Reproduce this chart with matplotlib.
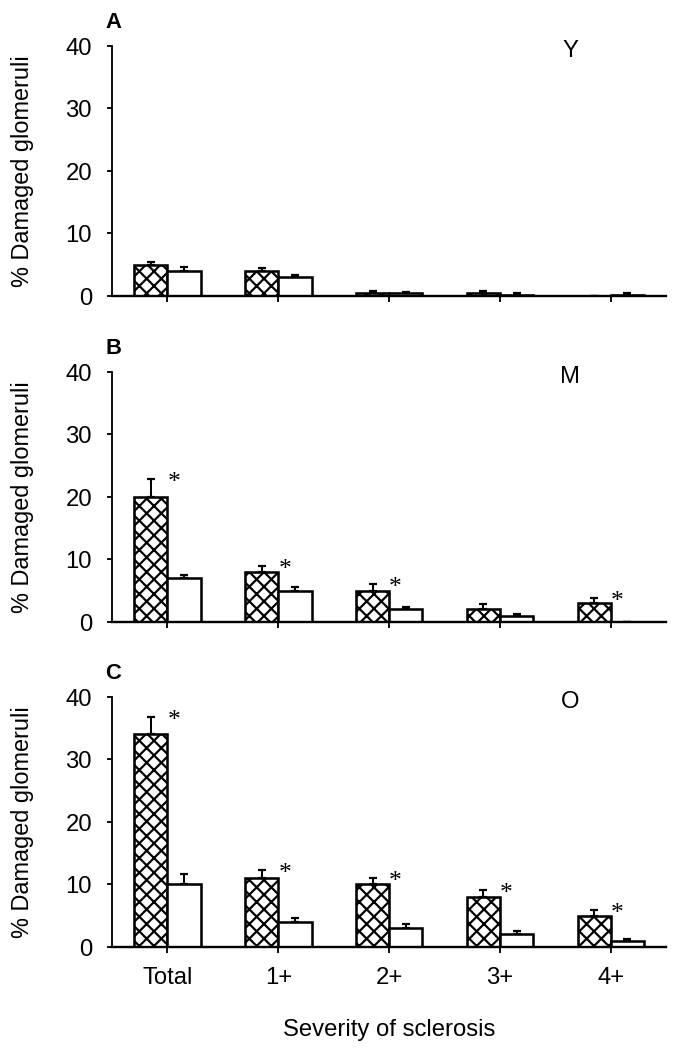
import matplotlib
matplotlib.use('Agg')
import matplotlib.pyplot as plt
import numpy as np

DPI = 132
plt.rcParams['font.family'] = ['Liberation Sans', 'DejaVu Sans']
plt.rcParams['hatch.linewidth'] = 1.2
plt.rcParams['hatch.color'] = 'black'

categories = ['Total', '1+', '2+', '3+', '4+']
panel_letters = ['A', 'B', 'C']
group_names = ['Y', 'M', 'O']

# panel A (Y)
y_hatched = [5, 4, 0.4, 0.4, 0]
y_hatched_err = [0.4, 0.4, 0.3, 0.3, 0]
y_open = [4, 3, 0.4, 0.2, 0.2]
y_open_err = [0.6, 0.3, 0.2, 0.2, 0.2]
y_sig = [False, False, False, False, False]

# panel B (M)
m_hatched = [20, 8, 5, 2, 3]
m_hatched_err = [2.9, 1.0, 1.1, 0.9, 0.8]
m_open = [7, 5, 2, 1, 0]
m_open_err = [0.5, 0.5, 0.4, 0.2, 0]
m_sig = [True, True, True, False, True]

# panel C (O)
o_hatched = [34, 11, 10, 8, 5]
o_hatched_err = [2.8, 1.3, 1.0, 1.1, 0.9]
o_open = [10, 4, 3, 2, 1]
o_open_err = [1.6, 0.6, 0.6, 0.6, 0.3]
o_sig = [True, True, True, True, True]

panels = [
    (y_hatched, y_hatched_err, y_open, y_open_err, y_sig),
    (m_hatched, m_hatched_err, m_open, m_open_err, m_sig),
    (o_hatched, o_hatched_err, o_open, o_open_err, o_sig),
]

fig = plt.figure(figsize=(673.3 / DPI, 1049.3 / DPI), dpi=DPI)

left = 112 / 673
width = 554 / 673
height = 250 / 1049
bottoms = [1 - 296 / 1049, 1 - 622 / 1049, 1 - 947 / 1049]

x = np.arange(len(categories))
w = 0.3
lw = 1.4
fs = 13

for i, (hv, he, ov, oe, sig) in enumerate(panels):
    ax = fig.add_axes([left, bottoms[i], width, height])
    ax.bar(x - w / 2, hv, w, color='white', edgecolor='black', hatch='xxx', linewidth=lw, zorder=2)
    ax.bar(x + w / 2, ov, w, color='white', edgecolor='black', linewidth=lw, zorder=2)
    ax.errorbar(x - w / 2, hv, yerr=[np.zeros(len(hv)), he], fmt='none', ecolor='black',
                elinewidth=1.1, capsize=2, capthick=1.2, zorder=1)
    ax.errorbar(x + w / 2, ov, yerr=[np.zeros(len(ov)), oe], fmt='none', ecolor='black',
                elinewidth=1.1, capsize=2, capthick=1.2, zorder=1)

    for j in range(len(categories)):
        if sig[j]:
            ax.annotate('*', (x[j], hv[j] + he[j]), xytext=(0, -2), textcoords='offset points',
                        family=['Liberation Serif', 'DejaVu Serif'], fontsize=14,
                        ha='left', va='center')

    ax.set_xlim(-0.5, 4.5)
    ax.set_ylim(0, 40)
    ax.set_yticks([0, 10, 20, 30, 40])
    ax.set_xticks(x)
    if i == 2:
        ax.set_xticklabels(categories)
    else:
        ax.set_xticklabels([])
    ax.tick_params(axis='y', length=3, width=1, pad=8, labelsize=fs, direction='out')
    ax.tick_params(axis='x', length=3, width=1, pad=8, labelsize=fs, direction='out')
    for s in ['top', 'right']:
        ax.spines[s].set_visible(False)
    ax.spines['left'].set_linewidth(1)
    ax.spines['bottom'].set_linewidth(1.3)

    ax.set_ylabel('% Damaged glomeruli', fontsize=12.8)
    ax.yaxis.set_label_coords(-0.141, 0.5)

    ax.text(0.002, 1.095, panel_letters[i], transform=ax.transAxes, fontsize=12,
            fontweight='bold', ha='center', va='center')
    ax.text(0.827, 0.98, group_names[i], transform=ax.transAxes, fontsize=13,
            ha='center', va='center')

fig.text(389 / 673, 1 - 1030 / 1049, 'Severity of sclerosis', fontsize=13,
         ha='center', va='center')

fig.savefig('out.png', dpi=DPI)
